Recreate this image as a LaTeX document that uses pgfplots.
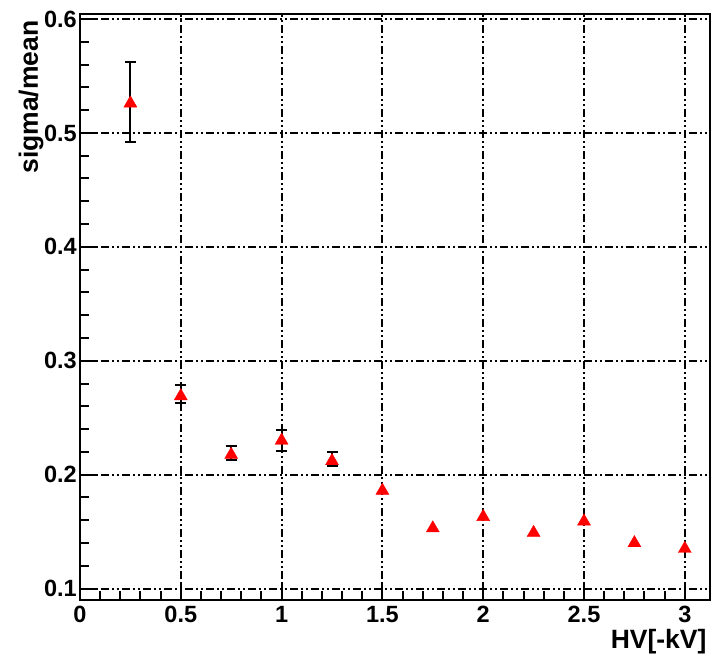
\documentclass[border=0pt]{standalone}
\usepackage{fontspec}
\setmainfont{Liberation Sans}
\usepackage{pgfplots}
\pgfplotsset{compat=1.18}
\begin{document}
\begin{tikzpicture}
\begin{axis}[
  scale only axis,
  width=630pt, height=586pt,
  xmin=0, xmax=3.125,
  ymin=0.09, ymax=0.6044,
  xtick={0,0.5,1,1.5,2,2.5,3},
  ytick={0.1,0.2,0.3,0.4,0.5,0.6},
  minor x tick num=4,
  minor y tick num=4,
  tick pos=left,
  tick align=inside,
  major tick length=16pt,
  minor tick length=9pt,
  every tick/.style={black, line width=2pt},
  axis line style={line width=2.6pt},
  grid=major,
  major grid style={black, line width=2pt, dash pattern=on 8pt off 3pt on 2pt off 3pt on 2pt off 3pt},
  /pgf/number format/assume math mode=true,
  tick label style={font=\fontsize{23.5}{27}\selectfont\bfseries},
  xticklabel style={yshift=-3pt},
  yticklabel style={inner sep=1pt, xshift=-2pt},
  xlabel={HV[-kV]},
  ylabel={sigma/mean},
  label style={font=\fontsize{26.5}{30}\selectfont\bfseries},
  xlabel style={at={(rel axis cs:1,-0.082)}, anchor=base east},
  ylabel style={at={(rel axis cs:-0.067,0.995)}, anchor=base east},
]
\addplot[
  only marks,
  mark=triangle*,
  mark size=7.5pt,
  mark options={fill=red, draw=red},
  error bars/.cd,
    y dir=both, y explicit,
    error bar style={black, line width=2pt},
    error mark options={black, line width=2pt, mark size=5.5pt, rotate=90},
] table[x=x, y=y, y error plus=ep, y error minus=em] {
x    y      ep     em
0.25 0.526  0.036  0.034
0.50 0.269  0.010  0.006
0.75 0.2175 0.008  0.005
1.00 0.230  0.0095 0.009
1.25 0.212  0.008  0.004
};
\addplot[
  only marks,
  mark=triangle*,
  mark size=7.5pt,
  mark options={fill=red, draw=red},
] table[x=x, y=y] {
x    y
1.50 0.186
1.75 0.153
2.00 0.163
2.25 0.149
2.50 0.159
2.75 0.140
3.00 0.135
};
\end{axis}
\path ([shift={(-80pt,-64pt)}]current axis.south west) rectangle ([shift={(7pt,14pt)}]current axis.north east);
\end{tikzpicture}
\end{document}
